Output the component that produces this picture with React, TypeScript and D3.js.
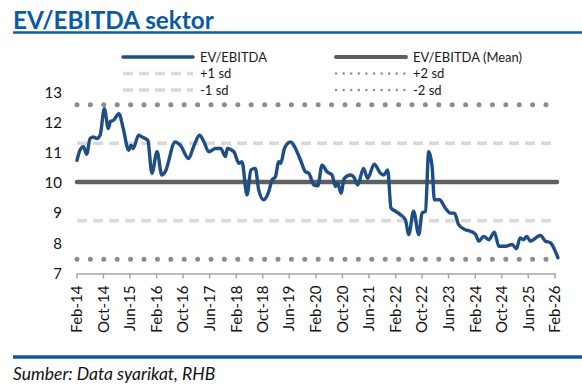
import React from 'react';
import * as d3 from 'd3';

// EV/EBITDA series
const dates = [
  '2014-02-01', '2014-03-01', '2014-04-01', '2014-05-01', '2014-06-01', '2014-07-01', '2014-08-01', '2014-09-01',
  '2014-10-10', '2014-11-15', '2014-12-05', '2015-01-01', '2015-02-20', '2015-04-01', '2015-05-20', '2015-06-12',
  '2015-07-01', '2015-08-20', '2015-09-20', '2015-10-20', '2015-11-12', '2015-12-20', '2016-02-05', '2016-03-20',
  '2016-04-20', '2016-07-20', '2016-09-05', '2016-11-20', '2017-01-05', '2017-03-01', '2017-04-10', '2017-05-25',
  '2017-07-25', '2017-09-10', '2017-10-25', '2017-11-10', '2018-01-10', '2018-02-25', '2018-03-25', '2018-05-10',
  '2018-06-15', '2018-07-25', '2018-08-25', '2018-10-10', '2018-11-25', '2018-12-25', '2019-01-25', '2019-02-25',
  '2019-03-15', '2019-04-18', '2019-06-12', '2019-07-12', '2019-09-12', '2019-10-28', '2019-11-28', '2020-01-12',
  '2020-02-18', '2020-03-28', '2020-05-12', '2020-06-28', '2020-07-28', '2020-08-18', '2020-09-18', '2020-10-18',
  '2020-12-12', '2021-01-12', '2021-02-18', '2021-04-12', '2021-05-20', '2021-07-20', '2021-09-15', '2021-10-15',
  '2021-11-20', '2021-12-20', '2022-02-01', '2022-03-15', '2022-05-01', '2022-06-01', '2022-07-15', '2022-09-01',
  '2022-10-01', '2022-11-01', '2022-12-01', '2023-01-01', '2023-01-22', '2023-03-10', '2023-05-01', '2023-06-18',
  '2023-07-25', '2023-09-01', '2023-11-01', '2023-12-18', '2024-02-04', '2024-03-04', '2024-04-18', '2024-06-04',
  '2024-07-25', '2024-09-04', '2024-11-04', '2025-01-04', '2025-02-12', '2025-03-18', '2025-04-18', '2025-05-18',
  '2025-06-20', '2025-09-20', '2025-11-05', '2025-12-20', '2026-02-28',
];
const values = [
  10.75, 11.09, 11.2, 10.95, 11.47, 11.52, 11.47, 11.58,
  12.46, 11.8, 12.04, 12.07, 12.29, 11.8, 11.08, 11.25,
  11.14, 11.58, 11.52, 11.47, 11.41, 10.32, 11.03, 10.26,
  10.37, 11.36, 11.25, 10.81, 11.2, 11.58, 11.36, 11.03,
  11.14, 11.14, 10.87, 11.14, 11.03, 10.65, 10.7, 9.6,
  10.43, 10.48, 9.77, 9.44, 9.71, 10.1, 10.2, 10.7,
  10.65, 11.14, 11.36, 11.25, 10.76, 10.37, 10.32, 9.93,
  9.9, 10.59, 10.37, 10.26, 9.88, 9.99, 9.66, 10.15,
  10.26, 10.2, 9.93, 10.48, 10.15, 10.62, 10.32, 10.26,
  10.43, 9.17, 9.06, 8.95, 8.78, 8.29, 9.06, 8.29,
  9.0, 9.06, 11.03, 10.54, 9.44, 9.44, 9.17, 9.0,
  9.0, 8.62, 8.45, 8.4, 8.29, 8.07, 8.23, 8.12,
  8.37, 7.9, 7.9, 7.96, 7.82, 8.18, 8.12, 8.23,
  8.07, 8.26, 8.07, 8.02, 7.52,
];

const mean = 10.03;
const sd = 1.28;
const yTicks = [7, 8, 9, 10, 11, 12, 13];
const tickDates = [
  'Feb-14', 'Oct-14', 'Jun-15', 'Feb-16', 'Oct-16', 'Jun-17', 'Feb-18', 'Oct-18', 'Jun-19', 'Feb-20',
  'Oct-20', 'Jun-21', 'Feb-22', 'Oct-22', 'Jun-23', 'Feb-24', 'Oct-24', 'Jun-25', 'Feb-26',
];

const BLUE = '#1f4e86';
const TITLE_BLUE = '#0b5aa6';
const MEAN_GREY = '#5f5f5f';
const DASH_GREY = '#d9d9d9';
const DOT_GREY = '#8c8c8c';
const FONT = 'Lato, "DejaVu Sans", sans-serif';

export default function App() {
  const width = 582;
  const height = 390;
  const left = 77;
  const right = 555;
  const top = 92.3;
  const bottom = 273.5;

  const parse = d3.timeParse('%Y-%m-%d');
  const parseTick = d3.timeParse('%b-%y');
  const points = dates.map((d, i) => ({ date: parse(d) as Date, value: values[i] }));

  const x = d3.scaleTime()
    .domain([parse('2014-02-01') as Date, parse('2026-02-01') as Date])
    .range([left, right]);
  const y = d3.scaleLinear().domain([7, 13]).range([bottom, top]);

  const line = d3.line<{ date: Date; value: number }>()
    .x(d => x(d.date))
    .y(d => y(d.value))
    .curve(d3.curveMonotoneX);

  const refs = [
    { v: mean + 2 * sd, kind: 'dot' },
    { v: mean + sd, kind: 'dash' },
    { v: mean - sd, kind: 'dash' },
    { v: mean - 2 * sd, kind: 'dot' },
  ];

  const styleFor = (kind: string) => {
    if (kind === 'dot') return { stroke: DOT_GREY, strokeWidth: 5, strokeDasharray: '0 13.4', strokeLinecap: 'round' as const };
    return { stroke: DASH_GREY, strokeWidth: 3.5, strokeDasharray: '10 6', strokeLinecap: 'butt' as const };
  };

  const legend = [
    { label: 'EV/EBITDA', x0: 123, y0: 57, stroke: BLUE, w: 3.5, dash: undefined, cap: 'round' },
    { label: '+1 sd', x0: 123, y0: 73.5, stroke: DASH_GREY, w: 3.5, dash: '10 6', cap: 'butt' },
    { label: '-1 sd', x0: 123, y0: 90, stroke: DASH_GREY, w: 3.5, dash: '10 6', cap: 'butt' },
    { label: 'EV/EBITDA (Mean)', x0: 336, y0: 57, stroke: MEAN_GREY, w: 4, dash: undefined, cap: 'round' },
    { label: '+2 sd', x0: 336, y0: 73.5, stroke: DOT_GREY, w: 2.5, dash: '0 7.6', cap: 'round' },
    { label: '-2 sd', x0: 336, y0: 90, stroke: DOT_GREY, w: 2.5, dash: '0 7.6', cap: 'round' },
  ];

  return (
    <svg width={width} height={height} style={{ position: 'absolute', left: 0, top: 0, background: '#fff' }} fontFamily={FONT}>
      {/* title */}
      <text x={13} y={29} fontSize={24.3} fontWeight={700} fill={TITLE_BLUE}>EV/EBITDA sektor</text>
      <line x1={13} x2={582} y1={32.5} y2={32.5} stroke={TITLE_BLUE} strokeWidth={2.5} />

      {/* legend */}
      {legend.map(l => (
        <g key={l.label}>
          <line x1={l.x0} x2={l.x0 + 70} y1={l.y0} y2={l.y0} stroke={l.stroke} strokeWidth={l.w}
            strokeDasharray={l.dash} strokeLinecap={l.cap as any} />
          <text x={l.x0 + 77} y={l.y0} dy="0.35em" fontSize={13} fill="#1a1a1a">{l.label}</text>
        </g>
      ))}

      {/* reference lines */}
      {refs.map((r, i) => {
        const s = styleFor(r.kind);
        return (
          <line key={i} x1={left} x2={right} y1={y(r.v)} y2={y(r.v)} stroke={s.stroke}
            strokeWidth={s.strokeWidth} strokeDasharray={s.strokeDasharray} strokeLinecap={s.strokeLinecap} />
        );
      })}
      <line x1={left} x2={right + 2} y1={y(mean)} y2={y(mean)} stroke={MEAN_GREY} strokeWidth={4.5} strokeLinecap="round" />

      {/* y axis labels */}
      {yTicks.map(t => (
        <text key={t} x={62} y={y(t)} dy="0.35em" textAnchor="end" fontSize={15} fill="#111">{t}</text>
      ))}

      {/* x axis */}
      <line x1={left} x2={right + 1} y1={bottom + 0.5} y2={bottom + 0.5} stroke="#a6a6a6" strokeWidth={1.5} />
      {tickDates.map(t => {
        const tx = x(parseTick(t) as Date);
        return (
          <g key={t}>
            <line x1={tx} x2={tx} y1={bottom} y2={bottom + 5} stroke="#a6a6a6" strokeWidth={1.5} />
            <text transform={`translate(${tx},${bottom + 12}) rotate(-90)`} dy="0.35em" textAnchor="end"
              fontSize={15} fill="#111">{t}</text>
          </g>
        );
      })}

      {/* series */}
      <path d={line(points) || ''} fill="none" stroke={BLUE} strokeWidth={3.4} strokeLinejoin="round" strokeLinecap="round" />

      {/* footer */}
      <line x1={13} x2={582} y1={357} y2={357} stroke={TITLE_BLUE} strokeWidth={3.5} />
      <text x={13} y={380} fontSize={17.5} fontStyle="italic" fill="#111">Sumber: Data syarikat, RHB</text>
    </svg>
  );
}
